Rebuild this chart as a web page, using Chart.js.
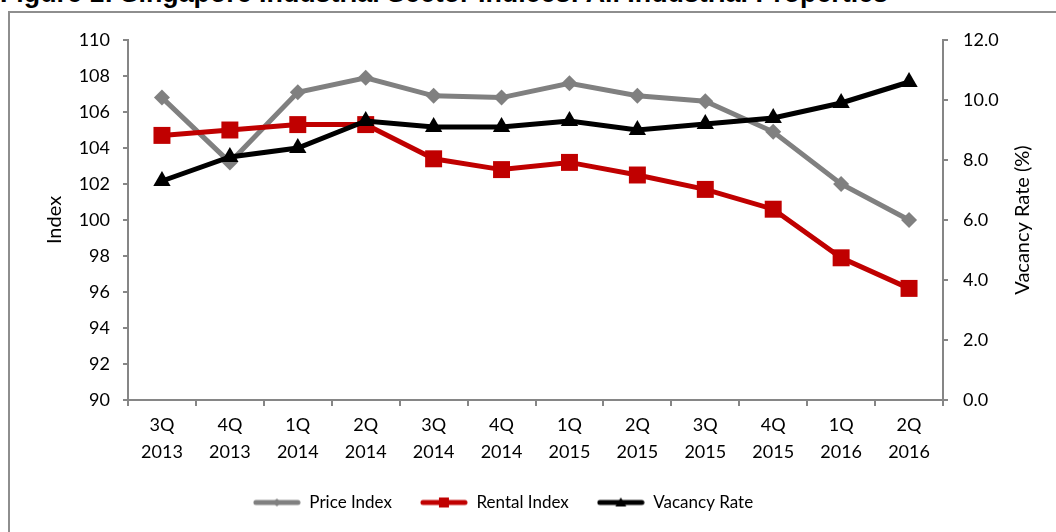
<!DOCTYPE html>
<html>
<head>
<meta charset="utf-8">
<script src="https://cdn.jsdelivr.net/npm/chart.js@4"></script>
<style>
  body { margin: 0; width: 1056px; height: 532px; overflow: hidden; background: #fff; position: relative; }
  #frame { position: absolute; left: 8px; top: 11px; width: 1200px; height: 700px; border: 2px solid #8e8e8e; }
  #title { position: absolute; left: 0; top: -20px; font: bold 26.8px "Liberation Sans", Arial, sans-serif; line-height: 27px; white-space: nowrap; color: #000; }
  canvas { position: absolute; left: 0; top: 0; }
</style>
</head>
<body>
<div id="frame"></div>
<div id="title">Figure 1: Singapore Industrial Sector Indices: All Industrial Properties</div>
<canvas id="myChart" width="1056" height="532"></canvas>
<script>
const quarters = ['3Q', '4Q', '1Q', '2Q', '3Q', '4Q', '1Q', '2Q', '3Q', '4Q', '1Q', '2Q'];
const years = ['2013', '2013', '2014', '2014', '2014', '2014', '2015', '2015', '2015', '2015', '2016', '2016'];
const priceIndex = [106.8, 103.2, 107.1, 107.9, 106.9, 106.8, 107.6, 106.9, 106.6, 104.9, 102.0, 100.0];
const rentalIndex = [104.7, 105.0, 105.3, 105.3, 103.4, 102.8, 103.2, 102.5, 101.7, 100.6, 97.9, 96.2];
const vacancyRate = [7.3, 8.1, 8.4, 9.3, 9.1, 9.1, 9.3, 9.0, 9.2, 9.4, 9.9, 10.6];
const rightTitle = 'Vacancy Rate (%)';

const axisGray = '#868686';
const font = { family: 'Lato', size: 18 };
const titleFont = { family: 'Lato', size: 20 };

// little line + marker pictures for the legend, like the excel ones
function makeIcon(color, marker) {
  const c = document.createElement('canvas');
  c.width = 48;
  c.height = 14;
  const g = c.getContext('2d');
  g.strokeStyle = color;
  g.fillStyle = color;
  g.lineWidth = 5;
  g.lineCap = 'round';
  g.beginPath();
  g.moveTo(3, 7);
  g.lineTo(45, 7);
  g.stroke();
  g.beginPath();
  if (marker === 'diamond') {
    g.moveTo(24, 3); g.lineTo(28, 7); g.lineTo(24, 11); g.lineTo(20, 7);
  } else if (marker === 'square') {
    g.rect(19, 2, 10, 10);
  } else {
    g.moveTo(24, 2); g.lineTo(29.5, 11); g.lineTo(18.5, 11);
  }
  g.closePath();
  g.fill();
  return c;
}
const legendIcons = [
  makeIcon('#808080', 'diamond'),
  makeIcon('#c00000', 'square'),
  makeIcon('#000000', 'triangle')
];

// excel puts the legend a bit left of the canvas centre
const legendShift = {
  id: 'legendShift',
  afterLayout(chart) {
    const lg = chart.legend;
    const dx = 503 - (lg.left + lg.right) / 2;
    lg.left += dx;
    lg.right += dx;
  }
};

// right axis title reads bottom-to-top in the original, chart.js turns it the other way
const rightAxisTitle = {
  id: 'rightAxisTitle',
  afterDraw(chart) {
    const s = chart.scales.y1;
    const c = chart.ctx;
    c.save();
    c.translate(1023, (s.top + s.bottom) / 2);
    c.rotate(-Math.PI / 2);
    c.font = '20px Lato';
    c.fillStyle = '#000';
    c.textAlign = 'center';
    c.textBaseline = 'middle';
    c.fillText(rightTitle, 0, 0);
    c.restore();
  }
};

const labels = quarters.map((q, i) => [q, years[i]]);

const data = {
  labels,
  datasets: [{
    label: 'Price Index',
    data: priceIndex,
    yAxisID: 'y',
    order: 3,
    borderColor: '#808080',
    backgroundColor: '#808080',
    borderWidth: 5,
    pointStyle: 'rectRot',
    pointRadius: 8,
    pointBorderWidth: 0,
  },
  {
    label: 'Rental Index',
    data: rentalIndex,
    yAxisID: 'y',
    order: 2,
    borderColor: '#c00000',
    backgroundColor: '#c00000',
    borderWidth: 5,
    pointStyle: 'rect',
    pointRadius: 12,
    pointBorderWidth: 0,
  },
  {
    label: 'Vacancy Rate',
    data: vacancyRate,
    yAxisID: 'y1',
    order: 1,
    borderColor: '#000000',
    backgroundColor: '#000000',
    borderWidth: 5,
    pointStyle: 'triangle',
    pointRadius: 10,
    pointBorderWidth: 0,
  }],
};

const config = {
  type: 'line',
  data: data,
  plugins: [legendShift, rightAxisTitle],
  options: {
    responsive: false,
    animation: false,
    clip: false,
    layout: { padding: { left: 39, right: 18, top: 40, bottom: 11 } },
    plugins: {
      tooltip: { enabled: false },
      legend: {
        position: 'bottom',
        labels: {
          usePointStyle: true,
          pointStyleWidth: 48,
          padding: 28,
          color: '#000',
          font: { family: 'Lato', size: 17 },
          sort: (a, b) => a.datasetIndex - b.datasetIndex,
          generateLabels: function (chart) {
            return Chart.defaults.plugins.legend.labels.generateLabels(chart).map(item => {
              item.pointStyle = legendIcons[item.datasetIndex];
              return item;
            });
          },
        },
      },
    },
    scales: {
      x: {
        offset: true,
        grid: { offset: true, drawOnChartArea: false, drawTicks: true, tickLength: 6, color: axisGray, lineWidth: 2 },
        border: { color: axisGray, width: 2 },
        ticks: { color: '#000', font: { family: 'Lato', size: 18, lineHeight: 1.5 }, padding: 6, maxRotation: 0, autoSkip: false },
        afterFit: function (scale) { scale.height = 66; },
      },
      y: {
        position: 'left',
        min: 90,
        max: 110,
        grid: { drawOnChartArea: false, tickLength: 5, color: axisGray, lineWidth: 2 },
        border: { color: axisGray, width: 2 },
        ticks: { stepSize: 2, padding: 13, color: '#000', font: font },
        title: { display: true, text: 'Index', color: '#000', font: titleFont },
        afterFit: function (scale) { scale.width = 89; },
      },
      y1: {
        position: 'right',
        min: 0,
        max: 12,
        grid: { drawOnChartArea: false, tickLength: 5, color: axisGray, lineWidth: 2 },
        border: { color: axisGray, width: 2 },
        ticks: {
          stepSize: 2,
          padding: 15,
          color: '#000',
          font: font,
          callback: function (value) {
            return value.toFixed(1);
          },
        },
        afterFit: function (scale) { scale.width = 95; },
      },
    },
  },
};

const ctx = document.getElementById('myChart').getContext('2d');
const myChart = new Chart(ctx, config);
</script>
</body>
</html>
